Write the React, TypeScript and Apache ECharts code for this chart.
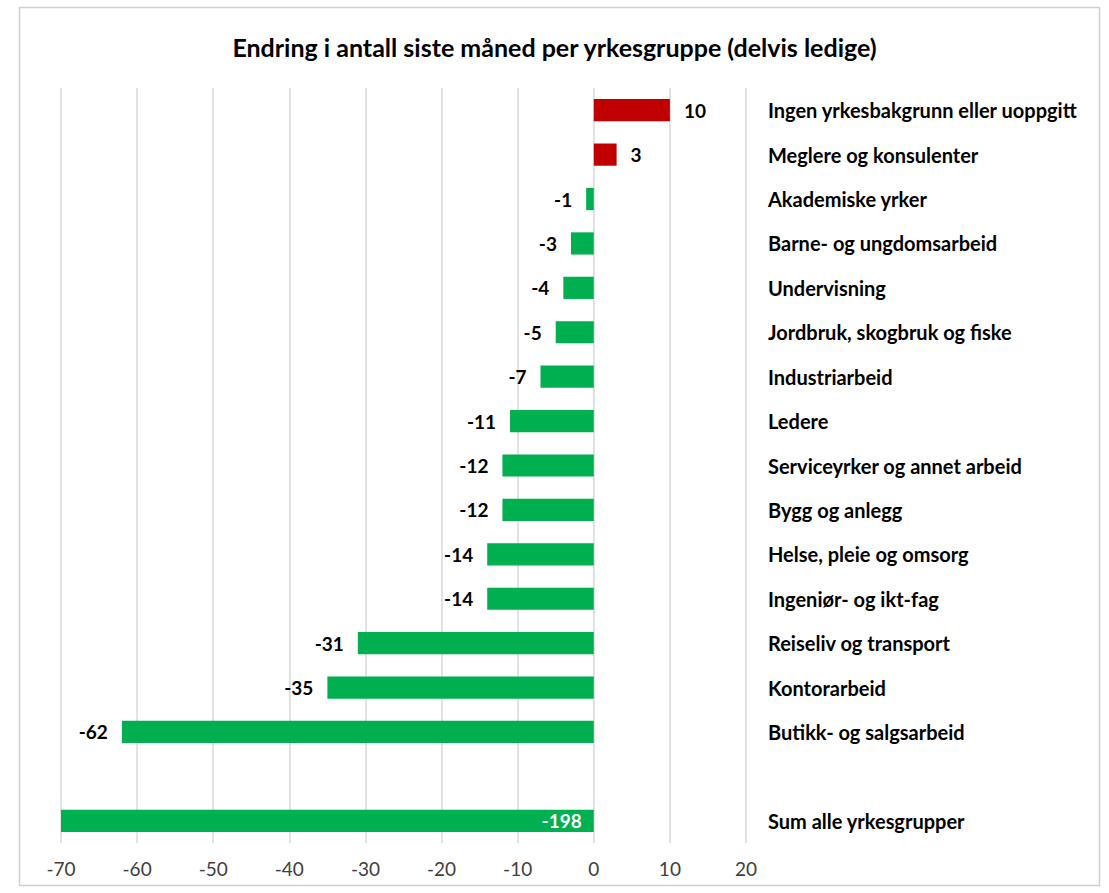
import React, { useEffect, useRef } from "react";
import * as echarts from "echarts";

const TITLE = "Endring i antall siste måned per yrkesgruppe (delvis ledige)";
const categories = [
  "Ingen yrkesbakgrunn eller uoppgitt",
  "Meglere og konsulenter",
  "Akademiske yrker",
  "Barne- og ungdomsarbeid",
  "Undervisning",
  "Jordbruk, skogbruk og fiske",
  "Industriarbeid",
  "Ledere",
  "Serviceyrker og annet arbeid",
  "Bygg og anlegg",
  "Helse, pleie og omsorg",
  "Ingeniør- og ikt-fag",
  "Reiseliv og transport",
  "Kontorarbeid",
  "Butikk- og salgsarbeid",
  "",
  "Sum alle yrkesgrupper",
];
const values: (number | null)[] = [10, 3, -1, -3, -4, -5, -7, -11, -12, -12, -14, -14, -31, -35, -62, null, -198];
const SUM_INDEX = 16;
const xMin = -70;
const xMax = 20;
const xInterval = 10;

const GREEN = "#00B050";
const RED = "#C00000";
const FONT = "Lato, 'Open Sans', sans-serif";

export default function App() {
  const ref = useRef<HTMLDivElement>(null);
  useEffect(() => {
    if (!ref.current) return;
    const chart = echarts.init(ref.current, null, { renderer: "svg" });
    const data = values.map((v, i) => {
      if (v === null) return { value: null };
      const pos = v >= 0;
      const item: any = {
        value: v,
        itemStyle: { color: pos ? RED : GREEN },
        label: {
          show: true,
          position: pos ? "right" : "left",
          distance: 14,
          color: "#000",
          fontWeight: "bold",
          fontSize: 19,
          fontFamily: FONT,
        },
      };
      if (i === SUM_INDEX) {
        item.label = {
          show: true,
          position: "insideRight",
          distance: 12,
          color: "#fff",
          fontWeight: "bold",
          fontSize: 19,
          fontFamily: FONT,
        };
      }
      return item;
    });
    chart.setOption({
      animation: false,
      backgroundColor: "#fff",
      textStyle: { fontFamily: FONT },
      title: {
        text: TITLE,
        left: "center",
        top: 29,
        textStyle: { fontSize: 25, fontWeight: "bold", color: "#000", fontFamily: FONT },
      },
      graphic: [
        {
          type: "rect",
          shape: { x: 19.5, y: 7.5, width: 1080, height: 878 },
          style: { fill: "none", stroke: "#D0D0D0", lineWidth: 1.5 },
          silent: true,
        },
      ],
      grid: { left: 61, right: 363, top: 88, bottom: 50, containLabel: false },
      xAxis: {
        type: "value",
        min: xMin,
        max: xMax,
        interval: xInterval,
        axisLine: { show: false },
        axisTick: { show: false },
        splitLine: { show: true, lineStyle: { color: "#D9D9D9", width: 1.5 } },
        axisLabel: { fontSize: 19, color: "#404040", margin: 16, fontFamily: FONT },
      },
      yAxis: {
        type: "category",
        data: categories,
        inverse: true,
        position: "right",
        axisLine: { show: false },
        axisTick: { show: false },
        splitLine: { show: false },
        axisLabel: {
          fontSize: 20,
          fontWeight: "bold",
          color: "#000",
          align: "left",
          margin: 22,
          fontFamily: FONT,
        },
      },
      series: [
        {
          type: "bar",
          data,
          barWidth: "50%",
          clip: true,
        },
      ],
    });
    return () => chart.dispose();
  }, []);
  return (
    <div
      ref={ref}
      style={{ position: "fixed", left: 0, top: 0, width: 1109, height: 893 }}
    />
  );
}
